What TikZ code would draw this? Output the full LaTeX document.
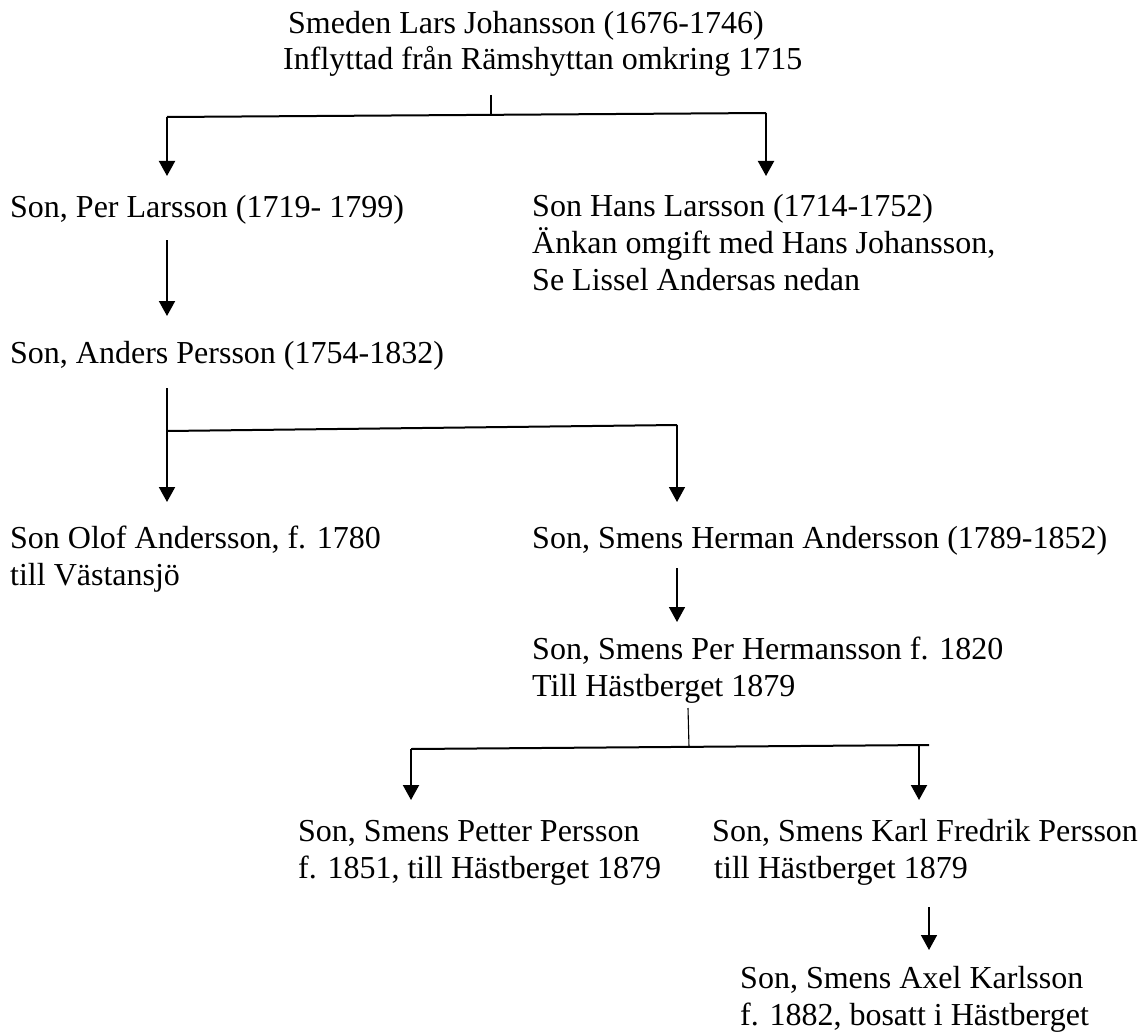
\documentclass[tikz,border=0pt]{standalone}
\usepackage{fontspec}
\setmainfont{Liberation Serif}
\usetikzlibrary{arrows.meta}

\begin{document}
\begin{tikzpicture}[x=1pt, y=-1pt,
	person/.style={anchor=base west, inner sep=0pt, align=left, font=\fontsize{32}{36.8}\selectfont},
	bar/.style={-, line width=2pt},
	stub/.style={-, line width=1.1pt},
	arr/.style={-{Triangle[width=16pt,length=15pt]}, line width=2pt},
	thinarr/.style={-{Triangle[width=16pt,length=15pt]}, line width=1.5pt}]
	
	\useasboundingbox (0,0) rectangle (1142,1035);
	
	% multi-line nodes sit on the baseline of their last line
	\node[person] (lars)    at (283, 70)   {\hspace*{5pt}Smeden Lars Johansson (1676-1746)\\Inflyttad från Rämshyttan omkring 1715};
	\node[person] (per)     at (10, 217)   {Son, Per Larsson (1719- 1799)};
	\node[person] (hans)    at (532, 290)  {Son Hans Larsson (1714-1752)\\Änkan omgift med Hans Johansson,\\Se Lissel Andersas nedan};
	\node[person] (anders)  at (10, 363)   {Son, Anders Persson (1754-1832)};
	\node[person] (olof)    at (10, 585)   {Son Olof Andersson, f. 1780\\till Västansjö};
	\node[person] (herman)  at (532, 548)  {Son, Smens Herman Andersson (1789-1852)};
	\node[person] (perh)    at (532, 696)  {Son, Smens Per Hermansson f. 1820\\Till Hästberget 1879};
	\node[person] (petter)  at (298, 878)  {Son, Smens Petter Persson\\f. 1851, till Hästberget 1879};
	\node[person] (karl)    at (712, 878)  {Son, Smens Karl Fredrik Persson\\\hspace*{2pt}till Hästberget 1879};
	\node[person] (axel)    at (740, 1025) {Son, Smens Axel Karlsson\\f. 1882, bosatt i Hästberget};
	
	\coordinate (larsout)   at (491, 95);
	\coordinate (split1)    at (491, 116);
	\coordinate (b1l)       at (167, 117);
	\coordinate (b1r)       at (766, 113);
	\coordinate (perin)     at (167, 176);
	\coordinate (hansin)    at (766, 176);
	\coordinate (perout)    at (167, 240);
	\coordinate (andersin)  at (167, 316);
	\coordinate (andersout) at (167, 388);
	\coordinate (b2l)       at (167, 431);
	\coordinate (b2r)       at (677, 425);
	\coordinate (olofin)    at (167, 502);
	\coordinate (hermanin)  at (677, 502);
	\coordinate (hermanout) at (677, 568);
	\coordinate (perhin)    at (677, 622);
	\coordinate (perhout)   at (688, 708);
	\coordinate (split3)    at (689, 747);
	\coordinate (b3l)       at (411, 749);
	\coordinate (b3r)       at (929, 745);
	\coordinate (b3k)       at (919, 745.3);
	\coordinate (petterin)  at (411, 800);
	\coordinate (karlin)    at (919, 800);
	\coordinate (karlout)   at (929, 907);
	\coordinate (axelin)    at (929, 950);
	
	\path[stub] (larsout) edge (split1);
	\path[bar] (b1l) edge (b1r);
	\path[arr] (b1l) edge (perin);
	\path[arr] (b1r) edge (hansin);
	\path[arr] (perout) edge (andersin);
	\path[arr] (andersout) edge (olofin);
	\path[bar] (b2l) edge (b2r);
	\path[thinarr] (b2r) edge (hermanin);
	\path[thinarr] (hermanout) edge (perhin);
	\path[stub] (perhout) edge (split3);
	\path[bar] (b3l) edge (b3r);
	\path[arr] (b3l) edge (petterin);
	\path[arr] (b3k) edge (karlin);
	\path[thinarr] (karlout) edge (axelin);
\end{tikzpicture}
\end{document}
